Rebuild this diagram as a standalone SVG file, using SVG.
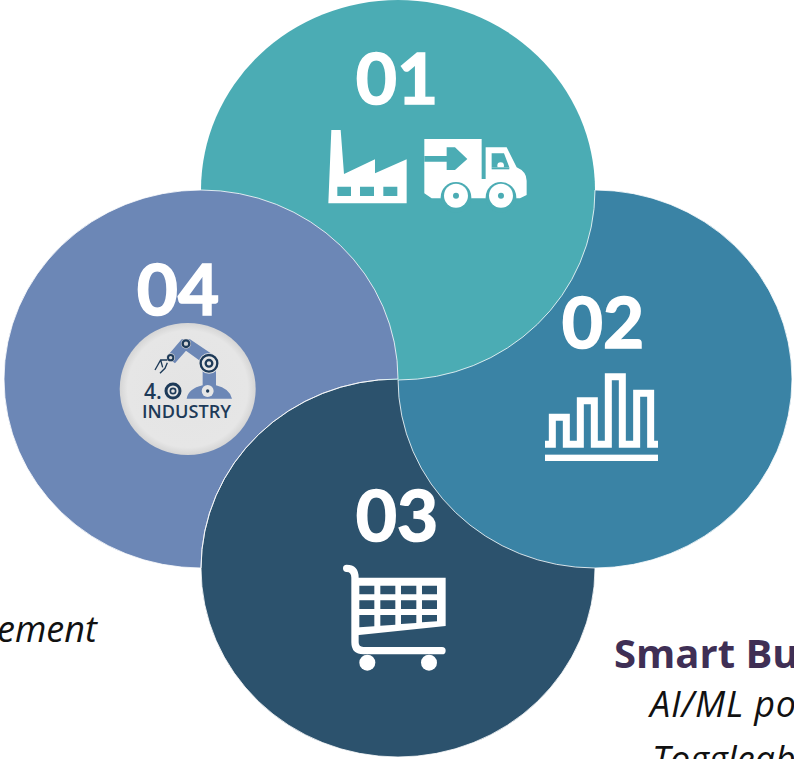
<svg xmlns="http://www.w3.org/2000/svg" width="794" height="759" viewBox="0 0 794 759">
<style>
.num{font-family:Lato,"Open Sans",sans-serif;font-weight:700;font-size:71px;fill:#fff;stroke:#fff;stroke-width:1.6;text-anchor:middle}
.it{font-family:"Open Sans","Noto Sans",sans-serif;font-style:italic;font-size:36px;fill:#111}
.petal{stroke:#fff;stroke-width:.8}
.w{fill:#fff}.t1{fill:#4BACB4}.t3{fill:#2C526D}
.line{fill:none;stroke:#fff}
.navy{fill:#1D3A58}.blue{fill:#6C87B6}
.gear{fill:none;stroke:#1D3A58}
</style>
<defs>
<radialGradient id="silver" cx=".5" cy=".5" r=".52"><stop offset="0" stop-color="#e4e4e4"/><stop offset=".85" stop-color="#e6e6e6"/><stop offset="1" stop-color="#cfcfcf"/></radialGradient>
</defs>
<rect width="794" height="759" fill="#fff"/>
<g id="petals">
<ellipse class="petal" cx="201" cy="379" rx="197" ry="189" fill="#6C87B6"/>
<ellipse class="petal" cx="398" cy="568" rx="197" ry="189" fill="#2C526D"/>
<ellipse class="petal" cx="595" cy="379" rx="197" ry="189" fill="#3A83A5"/>
<ellipse cx="398" cy="190" rx="197" ry="190" fill="#4BACB4"/>
<path d="M595,190A197,190 0 0 1 398,380" fill="none" stroke="#fff" stroke-width=".8"/>
<path d="M201,190A197,189 0 0 1 398,379L201,379Z" fill="#6C87B6"/>
<path d="M201,190A197,189 0 0 1 398,379" fill="none" stroke="#fff" stroke-width=".8"/>
<path d="M398,379A197,189 0 0 0 201,568" fill="none" stroke="#fff" stroke-width=".8"/>
</g>
<g id="node-01">
<text class="num" x="397" y="104">01</text>
<g transform="translate(310,110) scale(.3333)">
<path class="w" d="M64,60H92L102,192L195,148V190L290,148V280H55Z"/>
<path class="t1" d="M82,230H123V258H82ZM150,230H192V258H150ZM220,230H262V258H220Z"/>
<path class="w" d="M343,87H515V207H527V112H590L620,172Q650,185 650,212V255L630,265H365L343,250Z"/>
<path class="t1" d="M343,138H410V112H435L472,147L435,180H410V155H343ZM545,130H582L598,172H545Z"/>
<circle class="w" cx="572" cy="167" r="10"/>
<path class="t1" d="M545,172H598V178H545Z"/>
<circle class="t1" cx="438" cy="262" r="46"/><circle class="t1" cx="573" cy="262" r="46"/>
<circle class="w" cx="438" cy="257" r="36"/><circle class="w" cx="573" cy="257" r="36"/>
<circle class="t1" cx="438" cy="257" r="9"/><circle class="t1" cx="573" cy="257" r="9"/>
</g>
</g>
<g id="node-02">
<text class="num" x="603" y="348">02</text>
<g transform="translate(530,360) scale(.3333)">
<path class="line" stroke-width="21" d="M45,253H67V172H109V253H151V122H193V253H235V50H277V253H320V100H362V253H384"/>
<rect class="w" x="45" y="284" width="339" height="19"/>
</g>
</g>
<g id="node-03">
<text class="num" x="397" y="541">03</text>
<g transform="translate(330,555) scale(.3333)">
<path class="line" stroke-width="22" stroke-linecap="round" d="M50,40Q75,40 75,68V262Q75,287 100,287H336"/>
<path class="w" d="M80,68H347V213L80,241Z"/>
<path class="t3" d="M88,92H133V118H88ZM151,92H196V118H151ZM213,92H259V118H213ZM276,92H321V118H276ZM88,136H133V162H88ZM151,136H196V162H151ZM213,136H259V162H213ZM276,136H321V162H276ZM88,180H133V214L88,217ZM151,180H196V209L151,212ZM213,180H259V204L213,207ZM276,180H321V199L276,202Z"/>
<circle class="w" cx="112" cy="323" r="24"/><circle class="w" cx="297" cy="323" r="24"/>
</g>
</g>
<g id="node-04">
<text class="num" x="178" y="315">04</text>
<ellipse cx="187.7" cy="389" rx="68" ry="66" fill="url(#silver)"/>
<g transform="translate(110,310) scale(.3333)">
<path class="blue" d="M230,266Q235,236 278,226V158L228,122L195,160L170,140L215,88H240L318,140V226Q358,235 366,266Z"/>
<circle cx="228" cy="101" r="15" fill="#d5d5d5"/><circle class="gear" cx="228" cy="101" r="10" stroke-width="7"/>
<circle cx="182" cy="143" r="13" fill="#d5d5d5"/><circle class="gear" cx="182" cy="143" r="8" stroke-width="6"/>
<circle cx="297" cy="160" r="31" fill="#e6e6e6"/><circle class="gear" cx="297" cy="160" r="25" stroke-width="7"/><circle class="gear" cx="297" cy="160" r="10" stroke-width="7"/>
<circle cx="293" cy="243" r="18" fill="#e6e6e6"/><circle class="navy" cx="293" cy="243" r="5"/>
<path fill="none" stroke="#1D3A58" stroke-width="4" d="M172,150L152,150L135,180M172,158L165,175L150,190M152,150L158,172"/>
<circle cx="189" cy="243" r="21" class="gear" stroke-width="9"/><circle class="gear" cx="189" cy="243" r="8" stroke-width="5"/>
</g>
<text x="144" y="399" font-family="Open Sans,Noto Sans,sans-serif" font-size="21" font-weight="600" class="navy">4.</text>
<text x="142" y="418" font-family="Open Sans,Noto Sans,sans-serif" font-size="18" font-weight="600" class="navy" textLength="89" lengthAdjust="spacingAndGlyphs">INDUSTRY</text>
</g>
<g id="labels">
<text class="it" x="-3" y="642">ement</text>
<text x="614" y="668" font-family="Open Sans,Noto Sans,sans-serif" font-weight="700" font-size="40" fill="#3F2F55">Smart Bu</text>
<text class="it" x="650" y="717" textLength="146" lengthAdjust="spacing">AI/ML po</text>
<text class="it" x="652" y="772">Toggleab</text>
</g>
</svg>
